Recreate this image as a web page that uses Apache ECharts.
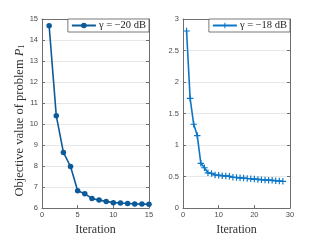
<!DOCTYPE html>
<html><head><meta charset="utf-8">
<script src="https://cdn.jsdelivr.net/npm/echarts@6/dist/echarts.min.js"></script>
<style>html,body{margin:0;padding:0;background:#fff}#c{width:321px;height:241px}</style>
</head><body><div id="c"></div>
<script>
// Left panel: gamma = -20 dB
const iterLeft = [1,2,3,4,5,6,7,8,9,10,11,12,13,14,15];
const valLeft = [14.68,10.4,8.65,7.98,6.83,6.68,6.46,6.38,6.32,6.26,6.24,6.22,6.2,6.19,6.18];
// Right panel: gamma = -18 dB
const iterRight = [1,2,3,4,5,6,7,8,9,10,11,12,13,14,15,16,17,18,19,20,21,22,23,24,25,26,27,28];
const valRight = [2.81,1.74,1.33,1.15,0.71,0.64,0.56,0.55,0.525,0.52,0.515,0.51,0.505,0.49,0.485,0.48,0.478,0.47,0.465,0.46,0.455,0.45,0.447,0.443,0.44,0.435,0.43,0.425];
const leftYTicks = {min:6,max:15,interval:1};
const leftXTicks = {min:0,max:15,interval:5};
const rightYTicks = {min:0,max:3,interval:0.5};
const rightXTicks = {min:0,max:30,interval:10};
const legendLeft = 'γ = −20 dB';
const legendRight = 'γ = −18 dB';

const chart = echarts.init(document.getElementById('c'), null, {renderer:'canvas'});
const axisCol = '#6e6e6e';
const labCol = '#4a4a4a';
const serif = 'Liberation Serif';
const plusPath = 'path://M-0.18,-1H0.18V-0.18H1V0.18H0.18V1H-0.18V0.18H-1V-0.18H-0.18Z';
const grids = [
  {left:42, right:172, top:19, bottom:27},
  {left:183, right:31, top:19, bottom:27}
];
function xAx(gi, t, name){
  return [{
    gridIndex:gi, type:'value', min:t.min, max:t.max, interval:t.interval,
    name:name, nameLocation:'middle', nameGap:11,
    nameTextStyle:{fontFamily:serif, fontSize:12, color:'#333'},
    axisLine:{onZero:false, lineStyle:{color:axisCol, width:1}},
    axisTick:{inside:true, length:3, lineStyle:{color:axisCol}},
    axisLabel:{fontSize:7.5, color:labCol, margin:3, fontFamily:'Liberation Sans'},
    splitLine:{show:false}
  },{
    gridIndex:gi, type:'value', position:'top', min:t.min, max:t.max, interval:t.interval,
    axisLine:{onZero:false, lineStyle:{color:axisCol, width:1}},
    axisTick:{inside:true, length:3, lineStyle:{color:axisCol}},
    axisLabel:{show:false}, splitLine:{show:false}
  }];
}
function yAx(gi, t, name){
  return [{
    gridIndex:gi, type:'value', min:t.min, max:t.max, interval:t.interval,
    name:name, nameLocation:'middle', nameGap:16,
    nameTextStyle:{fontFamily:serif, fontSize:12.5, color:'#333', padding:[0,14,0,0],
      rich:{i:{fontFamily:serif, fontStyle:'italic', fontSize:12.5, color:'#333'},
            s:{fontFamily:serif, fontSize:8, color:'#333', verticalAlign:'bottom', padding:[5,0,0,0]}}},
    axisLine:{onZero:false, lineStyle:{color:axisCol, width:1}},
    axisTick:{inside:true, length:3, lineStyle:{color:axisCol}},
    axisLabel:{fontSize:7.5, color:labCol, margin:4, fontFamily:'Liberation Sans'},
    splitLine:{show:true, lineStyle:{color:'#e8e8e8', width:1}}
  },{
    gridIndex:gi, type:'value', position:'right', min:t.min, max:t.max, interval:t.interval,
    axisLine:{onZero:false, lineStyle:{color:axisCol, width:1}},
    axisTick:{inside:true, length:3, lineStyle:{color:axisCol}},
    axisLabel:{show:false}, splitLine:{show:false}
  }];
}
const xAxes = [...xAx(0,leftXTicks,'Iteration'), ...xAx(1,rightXTicks,'Iteration')];
const yAxes = [...yAx(0,leftYTicks,'Objective value of problem {i|P}{s|1}'), ...yAx(1,rightYTicks,'')];
function legendCfg(idx, name, rightPx){
  return {
    data:[name], right:rightPx, top:19, orient:'horizontal',
    backgroundColor:'#fff', borderColor:'#555', borderWidth:0.8, borderRadius:0,
    padding:[1,3,1,3], itemWidth:24, itemHeight:7, itemGap:2,
    textStyle:{fontFamily:serif, fontSize:10.5, color:'#222', padding:[0,0,0,-2]}
  };
}
chart.setOption({
  animation:false,
  backgroundColor:'#fff',
  grid:grids,
  xAxis:xAxes,
  yAxis:yAxes,
  legend:[legendCfg(0,legendLeft,172), legendCfg(1,legendRight,31)],
  series:[
    {name:legendLeft, type:'line', xAxisIndex:0, yAxisIndex:0,
     data:iterLeft.map((x,i)=>[x,valLeft[i]]),
     symbol:'circle', symbolSize:5.5, showAllSymbol:true,
     lineStyle:{color:'#0D5A99', width:1.6}, itemStyle:{color:'#0D5A99'}},
    {name:legendRight, type:'line', xAxisIndex:2, yAxisIndex:2,
     data:iterRight.map((x,i)=>[x,valRight[i]]),
     symbol:plusPath, symbolSize:6.5, showAllSymbol:true,
     lineStyle:{color:'#0A76C8', width:1.6}, itemStyle:{color:'#0A76C8'}}
  ]
});
</script></body></html>
